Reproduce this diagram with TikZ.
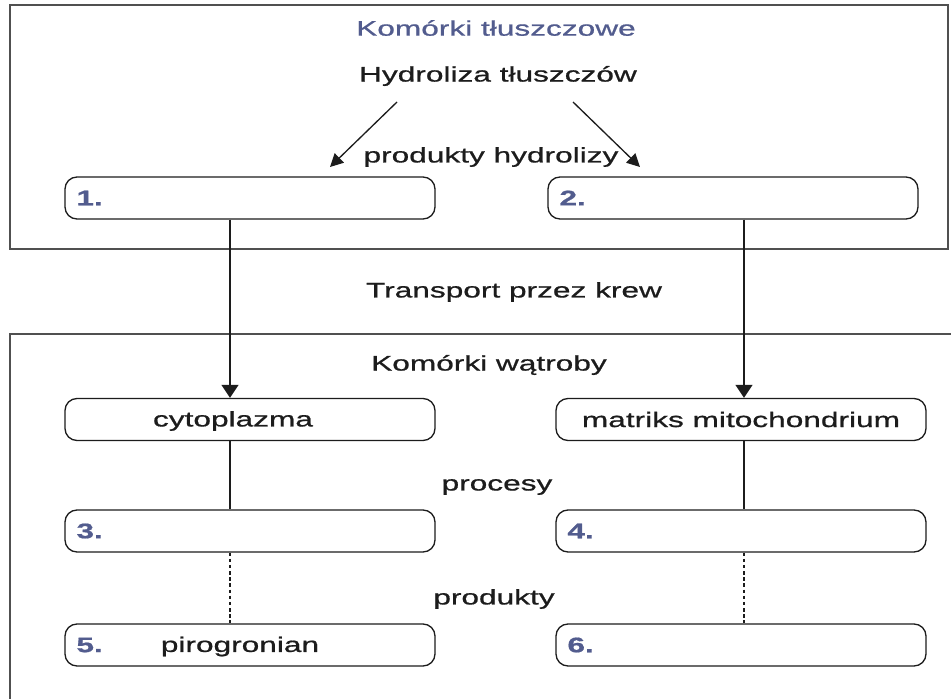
\documentclass[tikz,border=0pt]{standalone}
\usepackage{fontspec}
\setmainfont[FakeStretch=1.5, FakeBold=0.8]{Liberation Sans}
\usepackage{xcolor}
\usepackage{tikz}
\usetikzlibrary{arrows.meta,positioning,calc}
\definecolor{labelblue}{RGB}{82, 92, 142}
\definecolor{framegray}{RGB}{80, 80, 80}
\definecolor{inkblack}{RGB}{28, 28, 28}

\begin{document}
\begin{tikzpicture}[
  slotbox/.style={rectangle, draw=inkblack, rounded corners=2.4mm, line width=0.75pt, minimum width=7.4cm, minimum height=0.84cm, inner sep=0pt, font=\fontsize{12}{14}\selectfont, text=inkblack},
  numlbl/.style={font=\fontsize{12}{14}\selectfont\bfseries, text=labelblue, inner sep=1pt},
  steptext/.style={font=\fontsize{12}{14}\selectfont, text=inkblack, inner sep=1pt},
  cellframe/.style={draw=framegray, line width=1.1pt},
  flowarrow/.style={-{Triangle[length=2.6mm,width=3.4mm]}, line width=0.75pt, color=inkblack},
  splitarrow/.style={-{Triangle[length=2.6mm,width=2.6mm]}, line width=0.75pt, color=inkblack},
  linkline/.style={line width=0.75pt, color=inkblack}
]

% Page and background
\useasboundingbox (0,0) rectangle (19.02,-13.98);
\fill[white] (0,0) rectangle (19.02,-13.98);

% Two cell frames
\draw[cellframe] (0.2,-0.1) rectangle (18.96,-4.98);
\draw[cellframe] (19.02,-6.68) -- (0.2,-6.68) -- (0.2,-13.98);

% 1. Fat cells
\node[steptext, text=labelblue] (fathdr) at (9.92,-0.56) {Komórki tłuszczowe};
\node[steptext] (hydro) at (9.96,-1.52) {Hydroliza tłuszczów};
\node[steptext] (hprod) at (9.82,-3.14) {produkty hydrolizy};
\coordinate (splitL) at (7.94,-2.04);
\coordinate (splitR) at (11.46,-2.04);
\coordinate (tipL) at (6.60,-3.34);
\coordinate (tipR) at (12.80,-3.34);
\draw[splitarrow] (splitL) -- (tipL);
\draw[splitarrow] (splitR) -- (tipR);

\node[slotbox] (b1) at (5.0,-3.96) {};
\node[slotbox] (b2) at (14.66,-3.96) {};
\node[numlbl, right=0.2cm of b1.west] (n1) {1.};
\node[numlbl, right=0.2cm of b2.west] (n2) {2.};

% 2. Blood transport
\node[steptext] (blood) at (10.28,-5.84) {Transport przez krew};

% 3. Liver cells
\node[steptext] (liverhdr) at (9.78,-7.30) {Komórki wątroby};
\node[slotbox] (cyto) at (5.0,-8.39) {};
\node[steptext] (cytotxt) at (4.66,-8.42) {cytoplazma};
\node[slotbox] (matrix) at (14.82,-8.39) {matriks mitochondrium};

\coordinate (colL) at (4.6,0);
\coordinate (colR) at (14.88,0);
\draw[flowarrow] (b1.south -| colL) -- (cyto.north -| colL);
\draw[flowarrow] (b2.south -| colR) -- (matrix.north -| colR);

% 4. Processes
\node[steptext] (proc) at (9.94,-9.74) {procesy};
\node[slotbox] (b3) at (5.0,-10.62) {};
\node[slotbox] (b4) at (14.82,-10.62) {};
\node[numlbl, right=0.2cm of b3.west] (n3) {3.};
\node[numlbl, right=0.2cm of b4.west] (n4) {4.};
\draw[linkline] (cyto.south -| colL) -- (b3.north -| colL);
\draw[linkline] (matrix.south -| colR) -- (b4.north -| colR);

% 5. Products
\node[steptext] (prod) at (9.88,-11.98) {produkty};
\node[slotbox] (b5) at (5.0,-12.9) {};
\node[slotbox] (b6) at (14.82,-12.9) {};
\node[numlbl, right=0.2cm of b5.west] (n5) {5.};
\node[numlbl, right=0.2cm of b6.west] (n6) {6.};
\node[steptext] (piro) at (4.8,-12.93) {pirogronian};
\draw[linkline, dash pattern=on 2pt off 1.5pt] (b3.south -| colL) -- (b5.north -| colL);
\draw[linkline, dash pattern=on 2pt off 1.5pt] (b4.south -| colR) -- (b6.north -| colR);

\end{tikzpicture}
\end{document}
